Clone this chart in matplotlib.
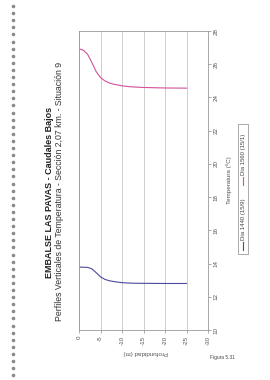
import matplotlib.pyplot as plt
from matplotlib.lines import Line2D
from matplotlib.patches import Rectangle
import numpy as np

plt.rcParams['font.family'] = ['Liberation Sans', 'DejaVu Sans']

# perfiles de temperatura (profundidad m, temperatura C)
profundidad = [0, -1, -2, -3, -4, -5, -6, -7, -8, -10, -12, -15, -20, -25]
dia_1440 = [13.78, 13.78, 13.77, 13.68, 13.45, 13.2, 13.05, 12.97, 12.92, 12.85, 12.82, 12.81, 12.8, 12.8]
dia_1560 = [26.92, 26.85, 26.6, 26.1, 25.55, 25.2, 25.0, 24.88, 24.8, 24.7, 24.64, 24.6, 24.57, 24.56]

series = ['Dia 1440 (15/9)', 'Dia 1560 (15/1)']
colores = ['#4b4a9c', '#d4509a']

temp_ticks = list(range(10, 29, 2))
prof_ticks = [0, -5, -10, -15, -20, -25, -30]

W, H = 270, 380
fig = plt.figure(figsize=(W / 100, H / 100), dpi=100)
fig.patch.set_facecolor('white')

def fx(px):
    return px / W

def fy(py):
    return 1 - py / H

# grafico girado 90 grados: profundidad en horizontal, temperatura en vertical
ax = fig.add_axes([fx(79), fy(330), fx(129), 299 / H])
ax.plot(profundidad, dia_1440, color=colores[0], lw=0.8)
ax.plot(profundidad, dia_1560, color=colores[1], lw=0.8)
ax.set_xlim(0, -30)
ax.set_ylim(10, 28)
ax.set_xticks(prof_ticks)
ax.set_xticklabels([str(t) for t in prof_ticks], rotation=90, fontsize=4.5, color='#555555')
ax.set_yticks(temp_ticks)
ax.set_yticklabels([str(t) for t in temp_ticks], rotation=90, fontsize=4.5, color='#555555', va='center')
ax.yaxis.tick_right()
ax.tick_params(axis='both', length=2, width=0.5, color='#888888', pad=2)
ax.grid(axis='x', color='#bbbbbb', lw=0.5)
for s in ax.spines.values():
    s.set_color('#999999')
    s.set_linewidth(0.6)

fig.text(fx(146), fy(353), 'Profundidad (m)', rotation=180, fontsize=4.5, color='#555555',
         ha='center', va='center')
fig.text(fx(229), fy(180), 'Temperatura (ºC)', rotation=90, fontsize=4.5, color='#555555',
         ha='center', va='center')

# titulo
fig.text(fx(50), fy(192), 'EMBALSE LAS PAVAS - Caudales Bajos', rotation=90, fontsize=6.5,
         fontweight='bold', color='#222222', ha='center', va='center')
fig.text(fx(60), fy(191), 'Perfiles Verticales de Temperatura - Sección 2,07 km. - Situación 9',
         rotation=90, fontsize=6.3, color='#333333', ha='center', va='center')

# leyenda
fig.patches.append(Rectangle((fx(238), fy(254)), fx(10), 130 / H, transform=fig.transFigure,
                             fill=False, ec='#888888', lw=0.5))
for i, (nombre, c) in enumerate(zip(series, colores)):
    y0 = 250 - i * 65
    fig.lines.append(Line2D([fx(243), fx(243)], [fy(y0), fy(y0 - 8)], transform=fig.transFigure,
                            color=c, lw=0.8))
    fig.text(fx(243), fy(y0 - 10), nombre, rotation=90, fontsize=4.3, color='#444444',
             ha='center', va='bottom')

fig.text(fx(222), fy(358), 'Figura 5.31', fontsize=3.5, color='#444444', ha='center', va='center')

# margen perforado del papel
dots_y = np.arange(6, 380, 7.1)
fig.lines.append(Line2D([fx(13)] * len(dots_y), [fy(v) for v in dots_y], transform=fig.transFigure,
                        ls='none', marker='o', ms=2.6, color='#8a8a8a', mec='none'))

fig.savefig('out.png', dpi=100)
